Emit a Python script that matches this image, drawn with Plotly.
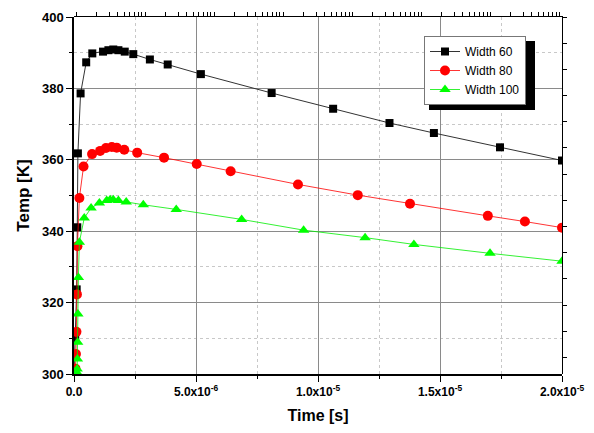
import plotly.graph_objects as go

# ---- data (time in s, temperature in K) ----
t_w60 = [0, 0.05e-6, 0.11e-6, 0.135e-6, 0.16e-6, 0.27e-6, 0.50e-6, 0.75e-6, 1.19e-6, 1.41e-6,
         1.61e-6, 1.82e-6, 2.08e-6, 2.43e-6, 3.11e-6, 3.84e-6, 5.2e-6, 8.1e-6, 1.062e-5,
         1.293e-5, 1.475e-5, 1.746e-5, 2.0e-5]
T_w60 = [300, 310, 323.7, 341.1, 361.8, 378.6, 387.3, 389.8, 390.3, 390.7,
         390.9, 390.7, 390.3, 389.6, 388.1, 386.7, 384.0, 378.7, 374.3,
         370.3, 367.5, 363.5, 359.8]

t_w80 = [0, 0.06e-6, 0.08e-6, 0.10e-6, 0.12e-6, 0.14e-6, 0.22e-6, 0.39e-6, 0.74e-6, 1.07e-6,
         1.31e-6, 1.55e-6, 1.75e-6, 2.06e-6, 2.59e-6, 3.69e-6, 5.03e-6, 6.42e-6, 9.18e-6,
         1.163e-5, 1.377e-5, 1.696e-5, 1.848e-5, 2.0e-5]
T_w80 = [300, 301.5, 305.6, 311.8, 322.3, 335.8, 349.3, 358.1, 361.6, 362.5,
         363.3, 363.6, 363.4, 362.8, 362.0, 360.6, 358.8, 356.8, 353.1,
         350.1, 347.7, 344.3, 342.7, 341.0]

t_w100 = [0, 0.11e-6, 0.13e-6, 0.14e-6, 0.15e-6, 0.16e-6, 0.18e-6, 0.22e-6, 0.42e-6, 0.70e-6,
          1.04e-6, 1.34e-6, 1.48e-6, 1.61e-6, 1.82e-6, 2.14e-6, 2.84e-6, 4.19e-6, 6.87e-6,
          9.41e-6, 1.193e-5, 1.393e-5, 1.705e-5, 2.0e-5]
T_w100 = [300, 300.5, 301.4, 304.2, 308.9, 316.8, 327.0, 336.9, 343.7, 346.5,
          347.9, 348.6, 348.8, 348.8, 348.6, 348.2, 347.4, 346.1, 343.3,
          340.3, 338.2, 336.3, 333.8, 331.6]

series_names = ["Width 60", "Width 80", "Width 100"]
x_tickvals = [0, 5e-6, 1e-5, 1.5e-5, 2e-5]
x_ticktext = ["0.0", "5.0x10<sup>-6</sup>", "1.0x10<sup>-5</sup>",
              "1.5x10<sup>-5</sup>", "2.0x10<sup>-5</sup>"]
y_tickvals = [300, 320, 340, 360, 380, 400]

FONT = "Liberation Sans, Arial, sans-serif"

# page has an 8px body margin: figure is 586x425 so that plot area lands at x 74..562, y 17..374
W, H = 586, 425
ML, MR, MT, MB = 66, 32, 9, 59
PW = W - ML - MR   # 488
PH = H - MT - MB   # 357

fig = go.Figure()
fig.add_trace(go.Scatter(x=t_w60, y=T_w60, name=series_names[0], mode="lines+markers",
                         line=dict(color="#333333", width=1),
                         marker=dict(symbol="square", size=8, color="black")))
fig.add_trace(go.Scatter(x=t_w80, y=T_w80, name=series_names[1], mode="lines+markers",
                         line=dict(color="#ff0000", width=0.8),
                         marker=dict(symbol="circle", size=10, color="#ff0000")))
fig.add_trace(go.Scatter(x=t_w100, y=T_w100, name=series_names[2], mode="lines+markers",
                         line=dict(color="#00ee00", width=0.8),
                         marker=dict(symbol="triangle-up", size=10, color="#00ff00")))
# invisible helper trace on a second (co-located) subplot that carries the top/right frame ticks
fig.add_trace(go.Scatter(x=[10], y=[5], xaxis="x2", yaxis="y2", mode="markers",
                         marker=dict(opacity=0, size=1),
                         showlegend=False, hoverinfo="skip"))

# decorative log-style ticks along the top axis (decade marks and 2..9 subdivisions)
top_ticks = [m * 10 ** k for k in range(0, 8) for m in range(1, 10)]

fig.update_layout(
    width=W, height=H,
    margin=dict(l=ML, r=MR, t=MT, b=MB),
    paper_bgcolor="white", plot_bgcolor="rgba(0,0,0,0)",
    font=dict(family=FONT, color="black"),
    showlegend=True,
    legend=dict(x=350 / PW, y=1 - 19 / PH, xanchor="left", yanchor="top",
                bgcolor="white", bordercolor="#777777", borderwidth=1,
                font=dict(size=12, family=FONT), tracegroupgap=0,
                itemwidth=30),
    xaxis=dict(range=[0, 2e-5], tickvals=x_tickvals, ticktext=x_ticktext,
               domain=[0, 1], anchor="y",
               automargin=False,
               ticks="outside", ticklen=6, tickwidth=1, tickcolor="black",
               showline=True, linecolor="black", linewidth=1.5,
               showgrid=True, gridcolor="#8a8a8a", gridwidth=1,
               zeroline=False,
               tickfont=dict(size=12, family=FONT, weight="bold"),
               title=dict(text="<b>Time [s]</b>", font=dict(size=16, family=FONT), standoff=12),
               minor=dict(dtick=2.5e-6, tick0=0, ticks="outside", ticklen=3, tickcolor="black",
                          showgrid=True, gridcolor="#c8c8c8", griddash="dot", gridwidth=1)),
    yaxis=dict(range=[300, 400], tickvals=y_tickvals,
               domain=[0, 1], anchor="x",
               automargin=False,
               ticks="outside", ticklen=6, tickwidth=1, tickcolor="black",
               showline=True, linecolor="black", linewidth=1.5,
               showgrid=True, gridcolor="#8a8a8a", gridwidth=1,
               zeroline=False,
               tickfont=dict(size=13, family=FONT, weight="bold"),
               title=dict(text="<b>Temp [K]</b>", font=dict(size=17, family=FONT), standoff=8),
               minor=dict(dtick=10, tick0=300, ticks="outside", ticklen=3, tickcolor="black",
                          showgrid=True, gridcolor="#c8c8c8", griddash="dot", gridwidth=1)),
    xaxis2=dict(domain=[0, 1], anchor="y2", side="top", type="log", range=[-0.03, 7.04],
                automargin=False, fixedrange=True,
                tickmode="array", tickvals=top_ticks,
                ticks="outside", ticklen=4, tickwidth=1, tickcolor="black",
                showticklabels=False, showgrid=False, zeroline=False,
                showline=True, linecolor="black", linewidth=1),
    yaxis2=dict(domain=[0, 1], anchor="x2", side="right", range=[13.63, 0],
                automargin=False, fixedrange=True,
                tickmode="array", tickvals=list(range(0, 14)),
                ticks="outside", ticklen=4, tickwidth=1, tickcolor="black",
                showticklabels=False, showgrid=False, zeroline=False,
                showline=True, linecolor="black", linewidth=1),
)

# legend drop shadow (screen px -> paper coords)
def px_x(v):
    return (v - 8 - ML) / PW

def px_y(v):
    return 1 - (v - 8 - MT) / PH

fig.add_shape(type="rect", xref="paper", yref="paper", layer="above",
              x0=px_x(429), x1=px_x(535), y0=px_y(110), y1=px_y(41),
              fillcolor="black", line=dict(width=0))

fig.write_html("out.html")
